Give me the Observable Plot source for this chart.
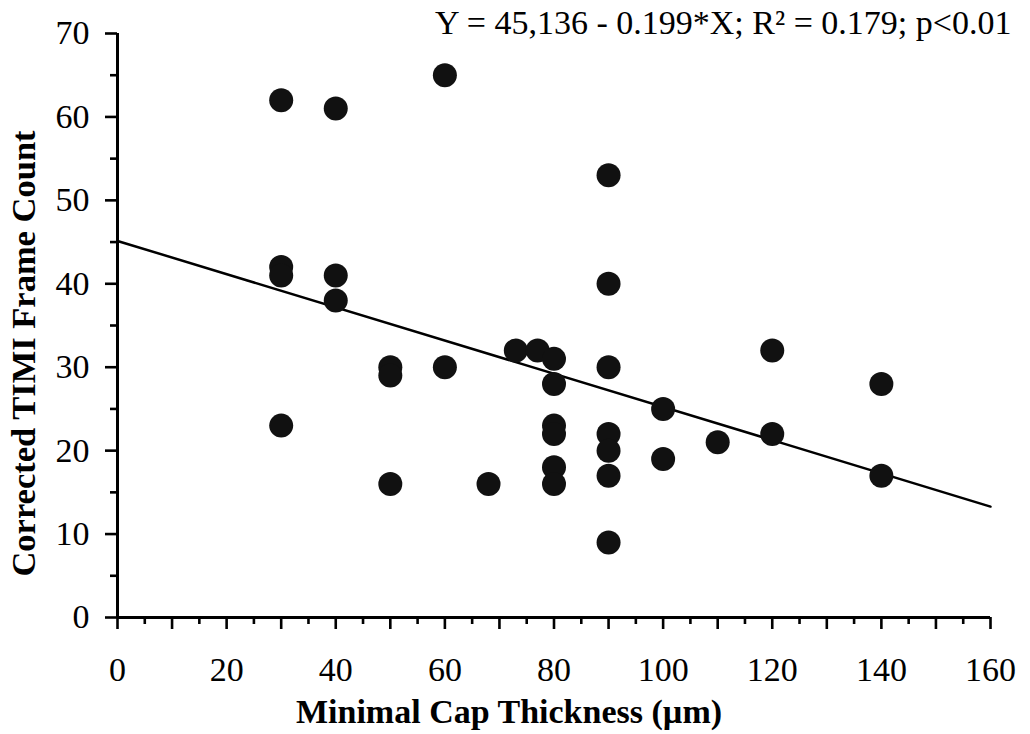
<!DOCTYPE html>
<html>
<head>
<meta charset="utf-8">
<script src="https://cdn.jsdelivr.net/npm/d3@7"></script>
<script src="https://cdn.jsdelivr.net/npm/@observablehq/plot@0.6"></script>
<style>
  html, body { margin: 0; padding: 0; background: #fff; }
  #chart svg { display: block; }
</style>
</head>
<body>
<div id="chart"></div>
<script>
// Data
const capThickness = [30,30,30,30,40,40,40,50,50,50,60,60,68,73,77,80,80,80,80,80,80,90,90,90,90,90,90,90,100,100,110,120,120,140,140];
const tfc          = [62,42,41,23,61,41,38,30,29,16,65,30,16,32,32,31,28,23,22,18,16,53,40,30,22,20,17, 9, 25, 19, 21, 32, 22, 28, 17];

const intercept = 45.136;
const slope = -0.199;
const equationText = "Y = 45,136 - 0.199*X; R\u00B2 = 0.179; p<0.01";
const xLabel = "Minimal Cap Thickness (\u00B5m)";
const yLabel = "Corrected TIMI Frame Count";

const xLabelTicks = [0,20,40,60,80,100,120,140,160];
const xMajorTicks = [0,10,20,30,40,50,60,70,80,90,100,110,120,130,140,150,160];
const xMinorTicks = [5,15,25,35,45,55,65,75,85,95,105,115,125,135,145,155];
const yLabelTicks = [0,10,20,30,40,50,60,70];
const yMinorTicks = [5,15,25,35,45,55,65];

const points = capThickness.map((x, i) => ({x, y: tfc[i]}));
const xDomain = [0, 160];
const fitLine = xDomain.map(x => ({x, y: intercept + slope * x}));

const font = "'Liberation Serif', 'Times New Roman', serif";

const chart = Plot.plot({
  width: 1030,
  height: 734,
  marginLeft: 117,
  marginRight: 40,
  marginTop: 33,
  marginBottom: 117,
  style: {fontFamily: font, color: "#000", background: "#fff"},
  x: {domain: xDomain},
  y: {domain: [0, 70]},
  marks: [
    Plot.axisX({ticks: xMajorTicks, tickSize: 12, strokeWidth: 2.6, text: null, label: null}),
    Plot.axisX({ticks: xMinorTicks, tickSize: 7, strokeWidth: 2.6, text: null, label: null}),
    Plot.axisX({ticks: xLabelTicks, tickSize: 0, tickPadding: 39, fontSize: 34, label: null}),
    Plot.axisY({ticks: yLabelTicks, tickSize: 12, strokeWidth: 2.6, tickPadding: 16, fontSize: 34, label: null}),
    Plot.axisY({ticks: yMinorTicks, tickSize: 7, strokeWidth: 2.6, text: null, label: null}),
    Plot.ruleY([0], {stroke: "#000", strokeWidth: 3}),
    Plot.ruleX([0], {stroke: "#000", strokeWidth: 3}),
    Plot.line(fitLine, {x: "x", y: "y", stroke: "#000", strokeWidth: 2.5}),
    Plot.dot(points, {x: "x", y: "y", r: 12, fill: "#111", stroke: "none"}),
    Plot.text([equationText], {frameAnchor: "top-right", textAnchor: "end", lineAnchor: "bottom", dx: 21, dy: 0, fontSize: 34, fill: "#000"}),
    Plot.text([xLabel], {frameAnchor: "bottom", textAnchor: "middle", lineAnchor: "middle", dx: -45, dy: 95, fontSize: 34, fontWeight: "bold", fill: "#000"}),
    Plot.text([yLabel], {frameAnchor: "left", textAnchor: "middle", rotate: -90, lineAnchor: "middle", dx: -94, dy: 28, fontSize: 34.5, fontWeight: "bold", fill: "#000"})
  ]
});

document.getElementById("chart").appendChild(chart);
</script>
</body>
</html>
